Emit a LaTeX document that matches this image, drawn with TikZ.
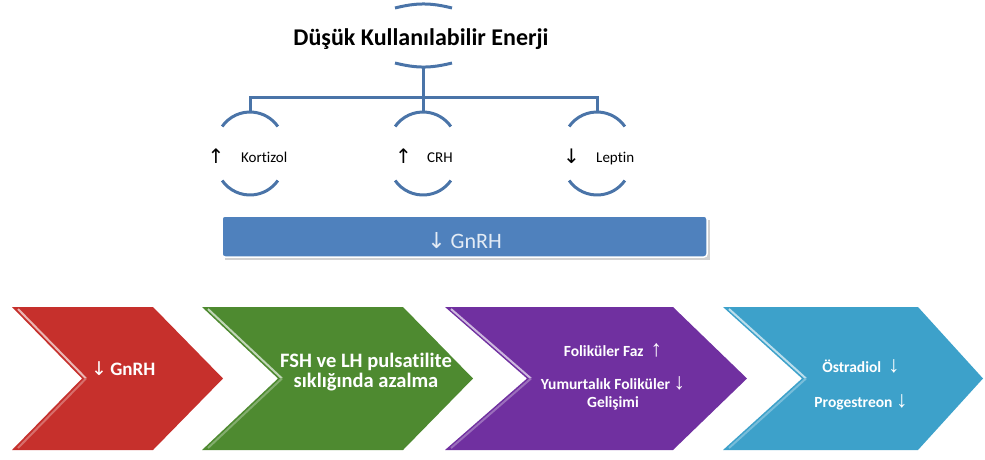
\documentclass[tikz,border=0pt]{standalone}
\usepackage{fontspec}
\setmainfont{Carlito}[Ligatures=NoCommon]
\newfontfamily\arrowfont{DejaVu Sans}
\newfontfamily\thinarrow{Liberation Sans}
\usepackage{tikz}
\usetikzlibrary{positioning,calc}
\definecolor{linkblue}{HTML}{4A74A8}
\definecolor{barblue}{HTML}{4F81BD}
\definecolor{chevred}{HTML}{C6302C}
\definecolor{chevgreen}{HTML}{4E8A30}
\definecolor{chevpurple}{HTML}{7030A0}
\definecolor{chevaqua}{HTML}{3DA1CA}
\newcommand{\uparr}{{\thinarrow\fontsize{23}{18}\selectfont\smash{↑}}}
\newcommand{\downarr}{{\thinarrow\fontsize{23}{18}\selectfont\smash{↓}}}
\tikzset{
  link/.style={draw=linkblue,line width=3pt},
  hlbl/.style={font=\fontsize{15}{17}\selectfont,anchor=base west,inner sep=0pt},
  harr/.style={font=\arrowfont\fontsize{20}{22}\selectfont,anchor=base,inner sep=0pt},
  ctext/.style={text=white,align=center,inner sep=0pt},
}

\begin{document}
\begin{tikzpicture}[x=1pt,y=1pt]
    \useasboundingbox (0,0) rectangle (985,-459);

    \node[font=\bfseries\fontsize{24}{28}\selectfont,anchor=base,inner sep=0pt] (title) at (421,-45) {Düşük Kullanılabilir Enerji};
    \draw[link] (395,-8) to[bend left=14] (452,-8);
    \draw[link] (395,-63) to[bend right=14] (452,-63);

    \coordinate (tbot) at (423,-66);
    \coordinate (hub) at (423,-97);
    \coordinate (kort) at (250,-112);
    \coordinate (crh) at (423,-112);
    \coordinate (lep) at (597,-112);
    \draw[link] (tbot) -- (hub);
    \draw[link] (kort) |- (hub) -| (lep);
    \draw[link] (hub) -- (crh);

    \foreach \cx in {250,423,597} {
      \draw[link] (\cx,-146) ++(145:34) arc[start angle=145,end angle=35,radius=34];
      \draw[link] (\cx,-161) ++(215:34) arc[start angle=215,end angle=325,radius=34];
    }

    \node[harr] (kortarr) at (216,-163) {↑};
    \node[hlbl] (kortlbl) at (241,-162) {Kortizol};
    \node[harr] (crharr) at (403.5,-163) {↑};
    \node[hlbl] (crhlbl) at (427,-162) {CRH};
    \node[harr] (leparr) at (571.5,-163) {↓};
    \node[hlbl] (leplbl) at (596,-162) {Leptin};

    \fill[black!18] (225,-220) rectangle (710,-260);
    \draw[fill=barblue,draw=white,line width=1.5pt,rounded corners=3pt] (222,-216) rectangle (707,-257);
    \node[text=white!85!barblue,font=\fontsize{22}{26}\selectfont,anchor=base,inner sep=0pt] (bargnrh) at (464.5,-248) {{\arrowfont ↓} GnRH};

    \foreach \a/\b/\t/\n/\col in {12/153/223/82/chevred,202/403/473/278/chevgreen,445/673/747/527/chevpurple,723/918/983/802/chevaqua} {
      \fill[\col] (\a,-307) -- (\b,-307) -- (\t,-378.5) -- (\b,-450) -- (\a,-450) -- (\n,-378.5) -- cycle;
      \draw[white!65!\col,line width=2pt] (\a+6,-309) -- (\n+4,-378.5);
      \draw[\col!70!white,line width=2pt] (\n+4,-378.5) -- (\a+6,-448);
    }

    \node[ctext,font=\bfseries\fontsize{19}{21}\selectfont,anchor=base west] (redtxt) at (91,-375) {{\arrowfont\mdseries ↓}\,GnRH};
    \node[ctext,font=\bfseries\fontsize{20.5}{20}\selectfont] (greentxt) at (366,-372.5) {FSH ve LH pulsatilite\\sıklığında azalma};
    \node[ctext,font=\bfseries\fontsize{15.5}{18}\selectfont] (purpletxt) at (613,-378) {Foliküler Faz \ \uparr\\[15pt]Yumurtalık Foliküler \downarr\\Gelişimi};
    \node[ctext,font=\bfseries\fontsize{15.5}{18}\selectfont] (aquatxt) at (861,-385) {Östradiol \ \downarr\\[17pt]Progestreon \downarr};
  \end{tikzpicture}
\end{document}
